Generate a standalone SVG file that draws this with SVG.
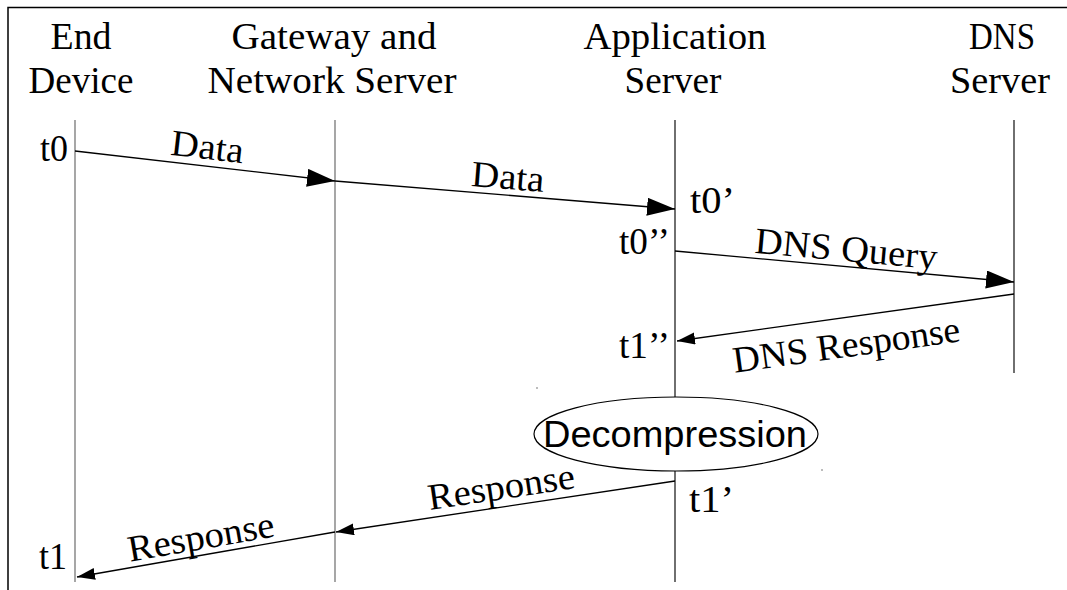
<svg xmlns="http://www.w3.org/2000/svg" width="1067" height="590" viewBox="0 0 1067 590">
<defs>
<style>
.t{font-family:"Liberation Serif","Times New Roman",serif;font-size:37px;fill:#000}
.m{text-anchor:middle}
.e{text-anchor:end}
.ll{stroke:#777;stroke-width:1.3;fill:none}
.ld{stroke:#222;stroke-width:1.3;fill:none}
.a{stroke:#000;stroke-width:1.3;fill:none}
</style>
<marker id="big" markerUnits="userSpaceOnUse" markerWidth="30" markerHeight="20" refX="28" refY="9" orient="auto">
<path d="M0,0 L28,9 L0,18 Z" fill="#000"/>
</marker>
<marker id="small" markerUnits="userSpaceOnUse" markerWidth="20" markerHeight="14" refX="18" refY="6" orient="auto">
<path d="M0,0 L18,6 L0,12 Z" fill="#000"/>
</marker>
</defs>
<rect width="1067" height="590" fill="#fff"/>
<path d="M8,590 V7.5 H1067" stroke="#000" stroke-width="1.5" fill="none"/>

<g id="end-device">
<text class="t m" x="81" y="49" textLength="61" lengthAdjust="spacingAndGlyphs">End</text>
<text class="t m" x="81" y="93" textLength="105" lengthAdjust="spacingAndGlyphs">Device</text>
<line class="ll" x1="75" y1="120" x2="75" y2="582"/>
</g>
<g id="gateway">
<text class="t m" x="334" y="49" textLength="205" lengthAdjust="spacingAndGlyphs">Gateway and</text>
<text class="t m" x="332" y="93" textLength="249" lengthAdjust="spacingAndGlyphs">Network Server</text>
<line class="ll" x1="335" y1="120" x2="335" y2="582"/>
</g>
<g id="app-server">
<text class="t m" x="675" y="49" textLength="183" lengthAdjust="spacingAndGlyphs">Application</text>
<text class="t m" x="673" y="93" textLength="97" lengthAdjust="spacingAndGlyphs">Server</text>
<line class="ld" x1="675" y1="120" x2="675" y2="582"/>
</g>
<g id="dns-server">
<text class="t m" x="1002" y="49" textLength="66" lengthAdjust="spacingAndGlyphs">DNS</text>
<text class="t m" x="1000" y="93" textLength="100" lengthAdjust="spacingAndGlyphs">Server</text>
<line class="ld" x1="1014" y1="120" x2="1014" y2="373"/>
</g>
<g id="decompression">
<ellipse cx="676" cy="434" rx="142" ry="37" fill="#fff" stroke="#000" stroke-width="1.2"/>
<text x="675" y="447" text-anchor="middle" font-family="Liberation Sans, Arial, sans-serif" font-size="37" textLength="264" lengthAdjust="spacingAndGlyphs">Decompression</text>
</g>

<g id="connectors">
<line class="a" x1="75" y1="151" x2="335" y2="181" marker-end="url(#big)"/>
<line class="a" x1="335" y1="181" x2="675" y2="209" marker-end="url(#big)"/>
<line class="a" x1="675" y1="251" x2="1014" y2="282" marker-end="url(#big)"/>
<line class="a" x1="1014" y1="294" x2="677" y2="341" marker-end="url(#small)"/>
<line class="a" x1="675" y1="481" x2="336" y2="532" marker-end="url(#small)"/>
<line class="a" x1="335" y1="532" x2="77" y2="577" marker-end="url(#small)"/>
</g>

<g id="labels">
<text class="t m" x="206" y="159" transform="rotate(6.6 206 159)" textLength="73" lengthAdjust="spacingAndGlyphs">Data</text>
<text class="t m" x="507" y="189" transform="rotate(4.7 507 189)" textLength="73" lengthAdjust="spacingAndGlyphs">Data</text>
<text class="t m" x="845" y="261" transform="rotate(5.2 845 261)" textLength="183" lengthAdjust="spacingAndGlyphs">DNS Query</text>
<text class="t m" x="848" y="357" transform="rotate(-7.9 848 357)" textLength="229" lengthAdjust="spacingAndGlyphs">DNS Response</text>
<text class="t m" x="503" y="499" transform="rotate(-8.5 503 499)" textLength="148" lengthAdjust="spacingAndGlyphs">Response</text>
<text class="t m" x="203" y="549" transform="rotate(-9.9 203 549)" textLength="148" lengthAdjust="spacingAndGlyphs">Response</text>
</g>

<g id="times">
<text class="t e" x="68" y="161" textLength="28" lengthAdjust="spacingAndGlyphs">t0</text>
<text class="t" x="690" y="213" textLength="45" lengthAdjust="spacingAndGlyphs">t0’</text>
<text class="t e" x="670" y="254" textLength="51" lengthAdjust="spacingAndGlyphs">t0’’</text>
<text class="t e" x="670" y="358" textLength="51" lengthAdjust="spacingAndGlyphs">t1’’</text>
<text class="t" x="689" y="512" textLength="45" lengthAdjust="spacingAndGlyphs">t1’</text>
<text class="t e" x="67" y="569" textLength="28" lengthAdjust="spacingAndGlyphs">t1</text>
</g>
<circle cx="537" cy="388" r="0.8" fill="#666"/>
<circle cx="822" cy="470" r="0.8" fill="#666"/>
</svg>
